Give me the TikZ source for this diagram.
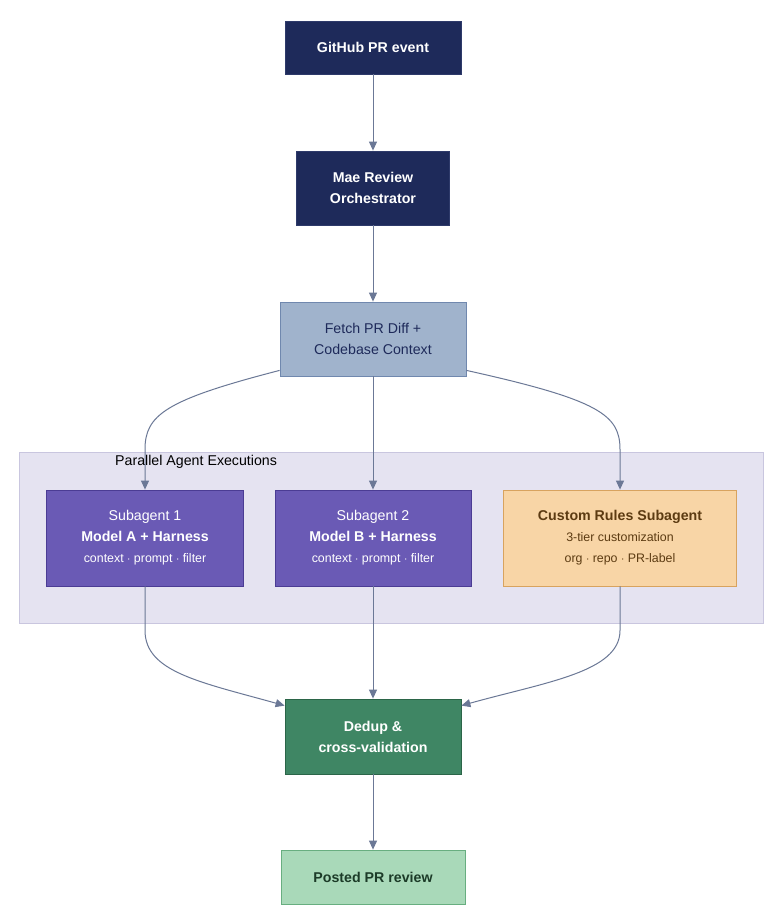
\documentclass[tikz,border=0pt]{standalone}
\usepackage{fontspec}
\setmainfont{Liberation Sans}
\usepackage{tikz}
\usetikzlibrary{arrows.meta, positioning, calc}

\definecolor{navy}{HTML}{1E2A5A}
\definecolor{navyline}{HTML}{2E3A6A}
\definecolor{fetchfill}{HTML}{A0B3CC}
\definecolor{fetchline}{HTML}{7088AE}
\definecolor{clusterfill}{HTML}{E5E3F1}
\definecolor{clusterline}{HTML}{C9C6DF}
\definecolor{purple}{HTML}{6A5AB5}
\definecolor{purpleline}{HTML}{4B3C94}
\definecolor{orangefill}{HTML}{F8D5A6}
\definecolor{orangeline}{HTML}{D8A35F}
\definecolor{orangetext}{HTML}{5C3B12}
\definecolor{darkgreen}{HTML}{3F8664}
\definecolor{darkgreenline}{HTML}{2B6548}
\definecolor{lightgreen}{HTML}{A9D9B9}
\definecolor{lightgreenline}{HTML}{68AE80}
\definecolor{greentext}{HTML}{1C3B28}
\definecolor{arrowcol}{HTML}{6B7896}

\newcommand{\bigtxt}{\fontsize{14.2}{21}\selectfont}
\newcommand{\smalltxt}{\fontsize{12.4}{21}\selectfont}

\tikzset{
  box/.style={rectangle, draw, line width=0.8pt, inner sep=0pt, align=center, font=\bigtxt},
  navybox/.style={box, fill=navy, draw=navyline, text=white, font=\bigtxt\bfseries},
  flow/.style={draw=arrowcol, line width=1pt, -{Triangle[length=9pt, width=8pt]}}
}

\begin{document}
\begin{tikzpicture}[x=1pt, y=1pt]
  \useasboundingbox (0,0) rectangle (783,-915);
  \fill[white] (0,0) rectangle (783,-915);

  % Cluster
  \node[rectangle, draw=clusterline, fill=clusterfill, line width=0.8pt, minimum width=744pt, minimum height=171pt] (cluster) at (391,-537.5) {};
  \node[anchor=west, font=\bigtxt, inner sep=0pt] (clusterlabel) at (115,-462) {Parallel Agent Executions};

  % Top chain
  \node[navybox, minimum width=176pt, minimum height=53pt] (event) at (373,-47.5) {GitHub PR event};
  \node[navybox, minimum width=153pt, minimum height=74pt] (orch) at (373,-188) {Mae Review\\Orchestrator};
  \node[box, fill=fetchfill, draw=fetchline, text=navy, minimum width=186pt, minimum height=74pt] (fetch) at (373,-339) {Fetch PR Diff +\\Codebase Context};

  % Subagents
  \node[box, fill=purple, draw=purpleline, text=white, minimum width=197pt, minimum height=96pt] (sub1) at (145,-538)
    {Subagent 1\\\textbf{Model A + Harness}\\{\smalltxt context $\cdot$ prompt $\cdot$ filter}};
  \node[box, fill=purple, draw=purpleline, text=white, minimum width=196pt, minimum height=96pt] (sub2) at (373,-538)
    {Subagent 2\\\textbf{Model B + Harness}\\{\smalltxt context $\cdot$ prompt $\cdot$ filter}};
  \node[box, fill=orangefill, draw=orangeline, text=orangetext, minimum width=233pt, minimum height=96pt] (custom) at (620,-538)
    {\textbf{Custom Rules Subagent}\\{\smalltxt 3-tier customization}\\{\smalltxt org $\cdot$ repo $\cdot$ PR-label}};

  % Bottom chain
  \node[box, fill=darkgreen, draw=darkgreenline, text=white, font=\bigtxt\bfseries, minimum width=176pt, minimum height=75pt] (dedup) at (373,-736.5) {Dedup \&\\cross-validation};
  \node[box, fill=lightgreen, draw=lightgreenline, text=greentext, font=\bigtxt\bfseries, minimum width=184pt, minimum height=54pt] (posted) at (373,-877) {Posted PR review};

  % Connectors
  \draw[flow] (event) -- (orch);
  \draw[flow] (orch) -- (fetch);
  \draw[flow] ($(fetch.south west)+(0,6)$) .. controls (165,-400) and (145,-415) .. ($(sub1.north)+(0,40)$) -- (sub1.north);
  \draw[flow] (fetch) -- (sub2);
  \draw[flow] ($(fetch.south east)+(0,6)$) .. controls (600,-400) and (620,-415) .. ($(custom.north)+(0,40)$) -- (custom.north);
  \draw[flow] (sub1.south) -- ($(sub1.south)+(0,-44)$) .. controls (145,-672) and (200,-682) .. ($(dedup.north west)+(0,-7)$);
  \draw[flow] (sub2) -- (dedup);
  \draw[flow] (custom.south) -- ($(custom.south)+(0,-44)$) .. controls (620,-672) and (546,-682) .. ($(dedup.north east)+(0,-7)$);
  \draw[flow] (dedup) -- (posted);
\end{tikzpicture}
\end{document}
